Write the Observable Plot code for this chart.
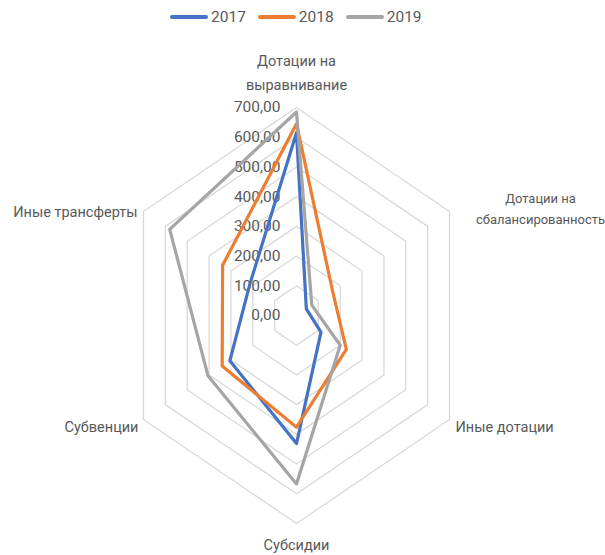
<!DOCTYPE html>
<html>
<head>
<meta charset="utf-8">
<script src="https://cdn.jsdelivr.net/npm/d3@7"></script>
<script src="https://cdn.jsdelivr.net/npm/@observablehq/plot@0.6"></script>
<style>
  html, body { margin: 0; padding: 0; background: #fff; }
  #wrap { position: relative; width: 605px; height: 555px; font-family: Roboto, "Open Sans", sans-serif; }
  #legend { position: absolute; left: 170px; top: 8px; display: flex; align-items: center; font-size: 15.5px; color: #595959; }
  #legend .item { display: flex; align-items: center; margin-right: 12px; }
  #legend .sw { display: inline-block; width: 38px; height: 4px; border-radius: 2px; margin-right: 3px; }
</style>
</head>
<body>
<div id="wrap">
  <div id="legend"></div>
  <div id="chart"></div>
</div>
<script>
const categories = [
  "Дотации на\nвыравнивание",
  "Дотации на\nсбалансированность",
  "Иные дотации",
  "Субсидии",
  "Субвенции",
  "Иные трансферты"
];
const years = ["2017", "2018", "2019"];
const colors = ["#4472C4", "#ED7D31", "#A5A5A5"];
const values2017 = [615, 45, 112, 431, 305, 213];
const values2018 = [645, 165, 228, 376, 340, 338];
const values2019 = [685, 70, 200, 567, 405, 580];
const ringValues = [0, 100, 200, 300, 400, 500, 600, 700];
const tickLabels = ["0,00", "100,00", "200,00", "300,00", "400,00", "500,00", "600,00", "700,00"];

const n = categories.length;
const ang = i => (i * 2 * Math.PI) / n;
const px = (v, i) => v * Math.sin(ang(i));
const py = (v, i) => v * Math.cos(ang(i));

const seriesValues = [values2017, values2018, values2019];
const seriesData = [];
years.forEach((yr, k) => {
  seriesValues[k].forEach((v, i) => seriesData.push({year: yr, i, v, x: px(v, i), y: py(v, i)}));
});

const gridData = [];
ringValues.slice(1).forEach(r => {
  for (let i = 0; i < n; i++) gridData.push({ring: r, x: px(r, i), y: py(r, i)});
});

const maxV = ringValues[ringValues.length - 1];
const labelOffsets = [
  {dx: 0, dy: -37, anchor: "middle", size: 14.5},
  {dx: 91, dy: -5, anchor: "middle", size: 13},
  {dx: 6, dy: 5, anchor: "start", size: 14.5},
  {dx: 0, dy: 19, anchor: "middle", size: 14.5},
  {dx: -5, dy: 5, anchor: "end", size: 14.5},
  {dx: -6, dy: -2, anchor: "end", size: 14.5}
];
const marks = [
  Plot.line(gridData, {x: "x", y: "y", z: "ring", curve: "linear-closed", stroke: "#d9d9d9", strokeWidth: 1.3})
];
categories.forEach((c, i) => {
  const o = labelOffsets[i];
  marks.push(Plot.text([{x: px(maxV, i), y: py(maxV, i), t: c}], {
    x: "x", y: "y", text: "t", dx: o.dx, dy: o.dy, textAnchor: o.anchor,
    lineHeight: 1.6, fontSize: o.size, fill: "#595959"
  }));
});
marks.push(
  Plot.text(ringValues.map((r, j) => ({x: 0, y: r, t: tickLabels[j]})), {
    x: "x", y: "y", text: "t", dx: -16, textAnchor: "end", fontSize: 15.5, fill: "#595959"
  }),
  Plot.line(seriesData, {x: "x", y: "y", z: "year", stroke: "year", curve: "linear-closed", strokeWidth: 3.2, strokeLinejoin: "round"})
);

const chart = Plot.plot({
  width: 605,
  height: 555,
  margin: 0,
  style: {fontFamily: "Roboto, 'Open Sans', sans-serif", background: "#fff"},
  x: {domain: [-maxV, maxV], range: [119.3, 472.7], axis: null},
  y: {domain: [-maxV, maxV], range: [523, 107], axis: null},
  color: {domain: years, range: colors},
  marks
});
document.getElementById("chart").appendChild(chart);

const legend = document.getElementById("legend");
years.forEach((yr, k) => {
  const item = document.createElement("div");
  item.className = "item";
  item.innerHTML = `<span class="sw" style="background:${colors[k]}"></span><span>${yr}</span>`;
  legend.appendChild(item);
});
</script>
</body>
</html>
